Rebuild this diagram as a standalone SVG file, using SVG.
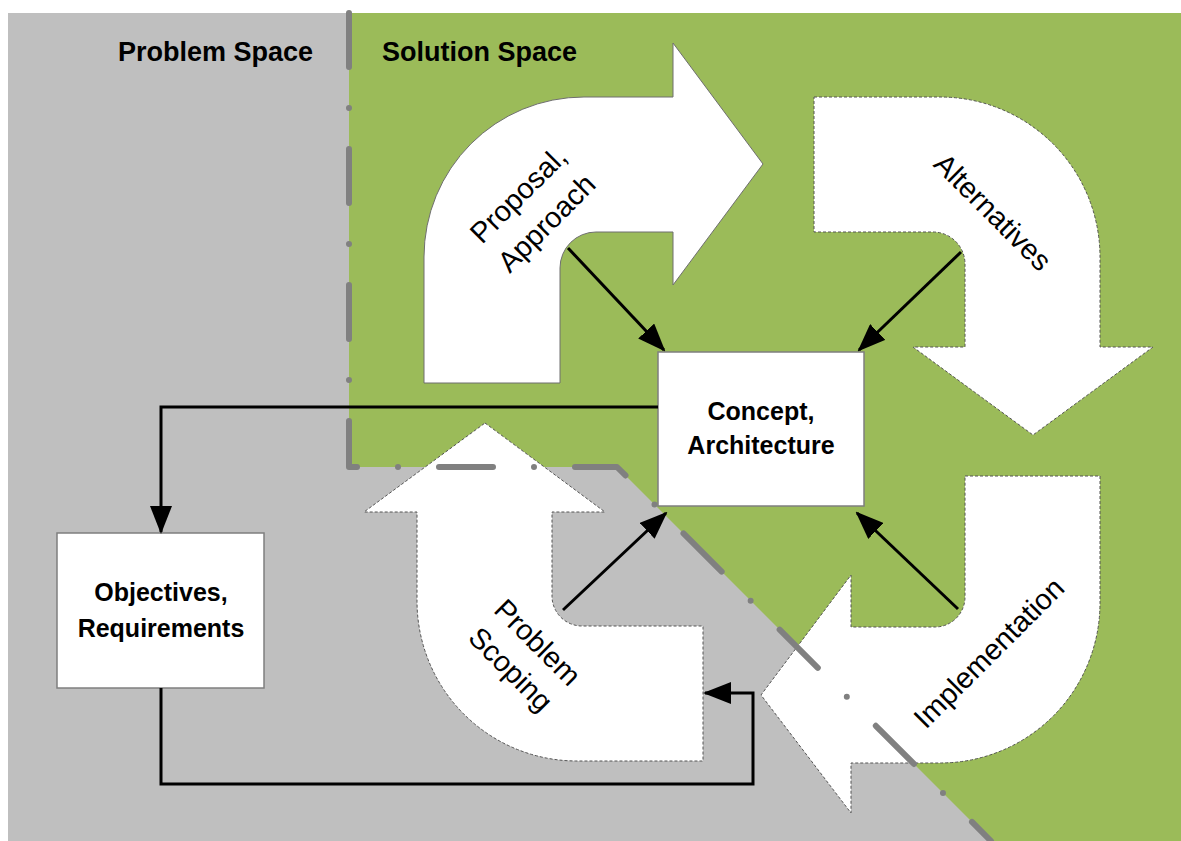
<svg xmlns="http://www.w3.org/2000/svg" width="1181" height="841" viewBox="0 0 1181 841">
<style>
.bigarrow{fill:#ffffff;stroke:#555555;stroke-width:1;stroke-dasharray:3 2;}
.solidarrow{fill:#ffffff;stroke:#6f6f6f;stroke-width:1;}
.box{fill:#ffffff;stroke:#7f7f7f;stroke-width:1.5;}
.head{font-family:"Liberation Sans",Arial,sans-serif;font-weight:bold;font-size:27px;fill:#000;}
.boxtxt{font-family:"Liberation Sans",Arial,sans-serif;font-weight:bold;font-size:25px;fill:#000;text-anchor:middle;}
.lbl{font-family:"Liberation Sans",Arial,sans-serif;font-size:29px;fill:#000;text-anchor:middle;}
.conn{fill:none;stroke:#000;stroke-width:3;}
.boundary{fill:none;stroke:#808080;stroke-width:6;stroke-linecap:round;stroke-linejoin:round;stroke-dasharray:54 41 0 41;}
</style>
<defs>
<marker id="ah" markerUnits="userSpaceOnUse" markerWidth="28" markerHeight="22" refX="26" refY="11" orient="auto">
<path d="M0,0 L28,11 L0,22 Z" fill="#000"/>
</marker>
</defs>
<rect x="0" y="0" width="1181" height="841" fill="#ffffff"/>
<g id="problem-space">
<rect x="8" y="13" width="1173" height="828" fill="#bfbfbf"/>
<text class="head" x="118" y="61">Problem Space</text>
</g>
<g id="solution-space">
<polygon points="349,13 1181,13 1181,841 991,841 617,467 349,467" fill="#9bbb59"/>
<text class="head" x="382" y="61">Solution Space</text>
</g>
<g id="proposal-approach">
<path class="solidarrow" d="M424,383 V257 A160,160 0 0 1 584,97 H673 V43 L763,164 L673,285 V232 H596 A36,36 0 0 0 560,268 V383 Z"/>
<text class="lbl" transform="translate(534.5 211) rotate(-45)"><tspan x="0" y="-13">Proposal,</tspan><tspan x="0" y="27">Approach</tspan></text>
</g>
<g id="alternatives">
<path class="bigarrow" d="M814,97 H940 A160,160 0 0 1 1100,257 V347 H1153 L1033,435 L913,347 H965 V264 A32,32 0 0 0 933,232 H814 Z"/>
<text class="lbl" transform="translate(993 212) rotate(45)" y="10">Alternatives</text>
</g>
<g id="problem-scoping">
<path class="bigarrow" d="M485,423 L605,512 H552 V596 A30,30 0 0 0 582,626 H703 V761 H577 A160,160 0 0 1 417,601 V512 H364 Z"/>
<text class="lbl" transform="translate(523.5 656.5) rotate(45)"><tspan x="0" y="-10">Problem</tspan><tspan x="0" y="28">Scoping</tspan></text>
</g>
<g id="implementation">
<path class="bigarrow" d="M965,476 H1100 V603 A160,160 0 0 1 940,763 H851 V813 L761,695 L851,575 V627 H935 A30,30 0 0 0 965,597 Z"/>
<text class="lbl" transform="translate(991 655) rotate(-45)" y="7">Implementation</text>
</g>
<g id="boundary">
<path class="boundary" d="M349,13 V467 H617 L991,841"/>
</g>
<g id="concept-architecture">
<rect class="box" x="658" y="352" width="206" height="154"/>
<text class="boxtxt" x="761" y="420">Concept,</text>
<text class="boxtxt" x="761" y="454">Architecture</text>
</g>
<g id="objectives-requirements">
<rect class="box" x="57" y="533" width="207" height="155"/>
<text class="boxtxt" x="161" y="601">Objectives,</text>
<text class="boxtxt" x="161" y="637">Requirements</text>
</g>
<g id="connectors">
<path class="conn" d="M568,248 L664,350" marker-end="url(#ah)"/>
<path class="conn" d="M961,252 L859,350" marker-end="url(#ah)"/>
<path class="conn" d="M563,610 L666,513" marker-end="url(#ah)"/>
<path class="conn" d="M958,609 L857,513" marker-end="url(#ah)"/>
<path class="conn" d="M658,407 H161 V532" marker-end="url(#ah)"/>
<path class="conn" d="M161,688 V784 H753 V693 H705" marker-end="url(#ah)"/>
</g>
</svg>
